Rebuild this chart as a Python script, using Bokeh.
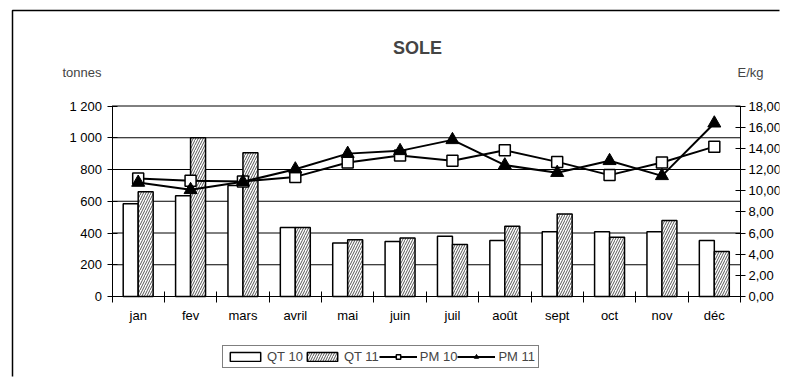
from bokeh.plotting import figure
from bokeh.models import (Range1d, LinearAxis, FixedTicker, Legend, LegendItem,
                          Label, ColumnDataSource)
from bokeh.core.properties import value
from bokeh.transform import dodge
from bokeh.embed import file_html
from bokeh.resources import INLINE

months = ["jan", "fev", "mars", "avril", "mai", "juin", "juil", "août",
          "sept", "oct", "nov", "déc"]
qt10 = [584, 634, 700, 435, 337, 347, 379, 352, 408, 408, 408, 352]
qt11 = [660, 1000, 905, 435, 357, 368, 327, 442, 520, 373, 478, 283]
pm10 = [11.15, 10.93, 10.87, 11.30, 12.66, 13.32, 12.82, 13.82, 12.72, 11.47, 12.66, 14.16]
pm11 = [10.77, 10.08, 10.84, 12.03, 13.50, 13.76, 14.80, 12.41, 11.70, 12.82, 11.40, 16.37]
left_ticks = [0, 200, 400, 600, 800, 1000, 1200]
left_labels = ["0", "200", "400", "600", "800", "1 000", "1 200"]
right_ticks = [0, 2, 4, 6, 8, 10, 12, 14, 16, 18]
right_labels = ["0,00", "2,00", "4,00", "6,00", "8,00", "10,00", "12,00", "14,00", "16,00", "18,00"]

FONT = "Liberation Sans"
N = len(months)
LMAX, RMAX = 1200, 18

# ---- layout geometry (pixels) ----
W, H = 784, 384
PAD_L, PAD_R, PAD_B, PAD_T = 8, 5, 8, 0
FR_L, FR_R, FR_T, FR_B = PAD_L, W - PAD_R, PAD_T, H - PAD_B
AX_L, AX_R = 111.5, 740.0     # plot area left/right
AX_T, AX_B = 105.5, 296.0     # plot area top/bottom
BORDER_X, BORDER_Y = 12.0, 10.0

xu = (AX_R - AX_L) / N
yu = (AX_B - AX_T) / LMAX
x_start, x_end = (FR_L - AX_L) / xu, (FR_R - AX_L) / xu
y_start, y_end = -(FR_B - AX_B) / yu, (AX_B - FR_T) / yu
k = RMAX / LMAX

pos = [i + 0.5 for i in range(N)]
src = ColumnDataSource(dict(x=pos, qt10=qt10, qt11=qt11, pm10=pm10, pm11=pm11, months=months))

p = figure(width=W, height=H, output_backend="svg", toolbar_location=None,
           x_range=Range1d(x_start, x_end), y_range=Range1d(y_start, y_end),
           min_border_left=PAD_L, min_border_right=PAD_R, min_border_top=PAD_T,
           min_border_bottom=PAD_B, x_axis_type=None, y_axis_type=None)
p.outline_line_color = None
p.background_fill_color = "white"
p.border_fill_color = "white"
p.grid.visible = False
p.extra_y_ranges = {"pm": Range1d(y_start * k, y_end * k)}

# outer chart border (left and top visible, the rest lies beyond the picture)
bx = (BORDER_X - AX_L) / xu
by = (AX_B - BORDER_Y) / yu
p.line(x=[bx, bx, x_end + 5], y=[y_start - 500, by, by], line_color="black", line_width=1.5)

# horizontal gridlines (tonnes scale)
p.segment(x0=[0] * len(left_ticks), x1=[N] * len(left_ticks), y0=left_ticks, y1=left_ticks,
          line_color="black", line_width=1)

# axes at fixed data positions; ticks only (as minor ticks), labels as text glyphs
xaxis = LinearAxis(ticker=FixedTicker(ticks=[], minor_ticks=list(range(N + 1))),
                   fixed_location=0, bounds=(0, N))
xaxis.minor_tick_in = 5
xaxis.minor_tick_out = 6
xaxis.minor_tick_line_color = "black"
xaxis.axis_line_color = "black"
p.add_layout(xaxis, "below")

yaxis = LinearAxis(ticker=FixedTicker(ticks=[], minor_ticks=left_ticks),
                   fixed_location=0, bounds=(0, LMAX))
yaxis.minor_tick_in = 5
yaxis.minor_tick_out = 5
yaxis.minor_tick_line_color = "black"
yaxis.axis_line_color = "black"
p.add_layout(yaxis, "left")

raxis = LinearAxis(y_range_name="pm", ticker=FixedTicker(ticks=[], minor_ticks=right_ticks),
                   fixed_location=N, bounds=(0, RMAX))
raxis.minor_tick_in = 5
raxis.minor_tick_out = 5
raxis.minor_tick_line_color = "black"
raxis.axis_line_color = "black"
p.add_layout(raxis, "right")

p.text(x=[0] * len(left_ticks), y=left_ticks, text=left_labels, x_offset=-10,
       text_align="right", text_baseline="middle", text_font_size="13px",
       text_font=value(FONT), text_color="black")
p.text(x=[N] * len(right_ticks), y=right_ticks, text=right_labels, x_offset=8,
       y_range_name="pm", text_align="left", text_baseline="middle",
       text_font_size="13px", text_font=value(FONT), text_color="black")
p.text(x="x", y=0, text="months", source=src, y_offset=11, text_align="center",
       text_baseline="top", text_font_size="13px", text_font=value(FONT), text_color="black")

bw = 0.286
r1 = p.vbar(x=dodge("x", -bw / 2), top="qt10", bottom=0, width=bw, source=src,
            fill_color="white", line_color="black", line_width=1.5)
r2 = p.vbar(x=dodge("x", bw / 2), top="qt11", bottom=0, width=bw, source=src,
            fill_color="white", line_color="black", line_width=1.5,
            hatch_pattern="/", hatch_color="#555555", hatch_scale=5, hatch_weight=1)

l1 = p.line("x", "pm10", source=src, y_range_name="pm", line_color="black", line_width=2)
m1 = p.scatter("x", "pm10", source=src, y_range_name="pm", marker="square", size=11,
               fill_color="white", line_color="black", line_width=1.5)
l2 = p.line("x", "pm11", source=src, y_range_name="pm", line_color="black", line_width=2)
m2 = p.scatter("x", "pm11", source=src, y_range_name="pm", marker="triangle", size=13,
               fill_color="black", line_color="black", line_width=1)

legend = Legend(items=[LegendItem(label="QT 10", renderers=[r1]),
                       LegendItem(label="QT 11", renderers=[r2]),
                       LegendItem(label="PM 10", renderers=[l1, m1]),
                       LegendItem(label="PM 11", renderers=[l2, m2])],
                orientation="horizontal", location=(222 - FR_L, FR_B - 368))
legend.border_line_color = "black"
legend.border_line_width = 1
legend.label_text_font = FONT
legend.label_text_font_size = "13px"
legend.glyph_width = 38
legend.glyph_height = 11
legend.spacing = 0
legend.padding = 3
legend.margin = 0
legend.label_standoff = 3
legend.background_fill_alpha = 1
p.add_layout(legend, "center")

p.add_layout(Label(x=417 - FR_L, y=FR_B - 47, x_units="screen", y_units="screen", text="SOLE",
                   text_font=FONT, text_font_size="18px", text_font_style="bold",
                   text_align="center", text_baseline="middle"))
p.add_layout(Label(x=62 - FR_L, y=FR_B - 72, x_units="screen", y_units="screen", text="tonnes",
                   text_font=FONT, text_font_size="13px", text_baseline="middle"))
p.add_layout(Label(x=737 - FR_L, y=FR_B - 72, x_units="screen", y_units="screen", text="E/kg",
                   text_font=FONT, text_font_size="13px", text_baseline="middle"))

open("out.html", "w").write(file_html(p, INLINE))
